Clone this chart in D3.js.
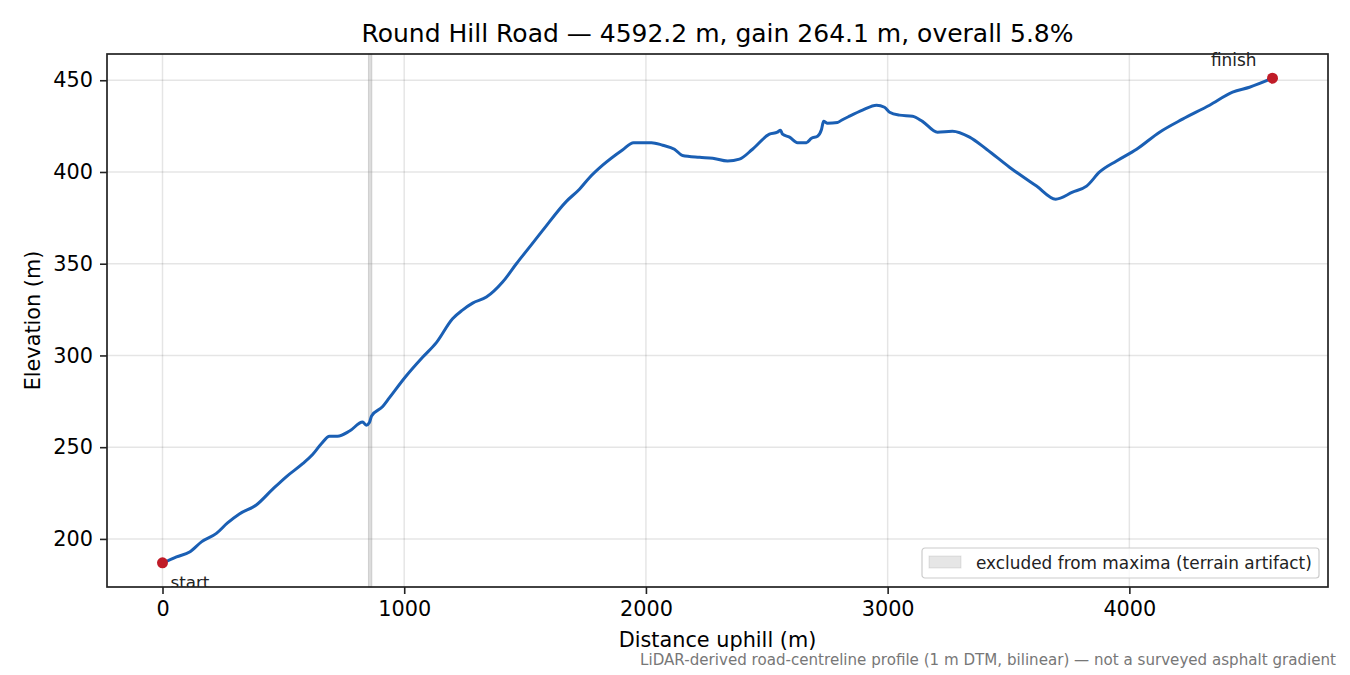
<!doctype html>
<html lang="en">
<head>
    <meta charset="UTF-8">
    <title>Round Hill Road profile</title>
    <style>
        html, body { margin: 0; padding: 0; background: #fff; }
        svg { display: block; font-family: "DejaVu Sans", sans-serif; }
    </style>
</head>
<body>
<svg id="chart" width="1350" height="675"></svg>

<script src="https://cdn.jsdelivr.net/npm/d3@7"></script>
<script>
  // profile
  const distance = [0, 21, 58, 112, 161, 223, 269, 318, 388, 455, 513, 580, 621, 658, 691, 724, 774, 828, 843, 856, 865,
    910, 939, 1008, 1076, 1133, 1200, 1241, 1283, 1340, 1407, 1464, 1506, 1572, 1671, 1725, 1767, 1821, 1903, 1949,
    2023, 2069, 2118, 2151, 2222, 2276, 2338, 2387, 2441, 2511, 2544, 2557, 2565, 2594, 2627, 2664, 2685, 2710, 2726,
    2735, 2751, 2793, 2809, 2842, 2896, 2954, 2987, 3008, 3049, 3103, 3144, 3206, 3268, 3339, 3409, 3504, 3616, 3695,
    3765, 3823, 3877, 3947, 4030, 4125, 4220, 4332, 4427, 4497, 4592.2]
  const elevation = [187.0, 188, 190.2, 192.9, 198.4, 203, 208.7, 213.6, 218.5, 227, 234, 241, 246, 252, 256, 256, 258.8, 263.7, 262, 263.5, 267,
    272, 277, 288.8, 299, 307, 320, 324.7, 328.5, 331.8, 340, 350, 357, 368, 384, 390.6, 397, 403.7, 412, 416,
    416, 414.6, 412.4, 409, 408, 407.5, 406, 407, 412.4, 420.6, 421.7, 422.8, 420.6, 419, 416, 416, 418.4, 419.5, 423,
    427.6, 426.6, 427, 428.2, 430.4, 433.7, 436.4, 435.3, 432.6, 431, 430.4, 427.6, 421.7, 422.2, 419, 412.4, 402.6, 392.3, 385.2,
    389, 392.3, 400, 406, 412.4, 421.7, 428.8, 436.4, 443.5, 446.2, 451.1]

  const excluded = [852, 866]
  const xTicks = [0, 1000, 2000, 3000, 4000]
  const yTicks = [200, 250, 300, 350, 400, 450]

  const title = 'Round Hill Road \u2014 4592.2 m, gain 264.1 m, overall 5.8%'
  const footnote = 'LiDAR-derived road-centreline profile (1 m DTM, bilinear) \u2014 not a surveyed asphalt gradient'

  const data = distance.map((d, i) => [d, elevation[i]])

  const plotL = 107, plotR = 1328, plotT = 54, plotB = 587

  // matplotlib style 5% margins
  const xMin = d3.min(distance), xMax = d3.max(distance)
  const yMin = d3.min(elevation), yMax = d3.max(elevation)
  const xPad = (xMax - xMin) * 0.05, yPad = (yMax - yMin) * 0.05

  const xScale = d3.scaleLinear().domain([xMin - xPad, xMax + xPad]).range([plotL, plotR])
  const yScale = d3.scaleLinear().domain([yMin - yPad, yMax + yPad]).range([plotB, plotT])

  const svg = d3.select('#chart')

  svg.append('defs').append('clipPath').attr('id', 'plot-clip')
    .append('rect')
    .attr('x', plotL).attr('y', plotT)
    .attr('width', plotR - plotL).attr('height', plotB - plotT)

  // grid
  const grid = svg.append('g')
  grid.selectAll('.gx').data(xTicks).join('line')
    .attr('x1', d => xScale(d)).attr('x2', d => xScale(d))
    .attr('y1', plotT).attr('y2', plotB)
    .attr('stroke', '#000').attr('stroke-opacity', 0.1).attr('stroke-width', 1.5)
  grid.selectAll('.gy').data(yTicks).join('line')
    .attr('y1', d => yScale(d)).attr('y2', d => yScale(d))
    .attr('x1', plotL).attr('x2', plotR)
    .attr('stroke', '#000').attr('stroke-opacity', 0.1).attr('stroke-width', 1.5)

  // excluded span
  svg.append('rect')
    .attr('x', xScale(excluded[0]))
    .attr('width', xScale(excluded[1]) - xScale(excluded[0]))
    .attr('y', plotT).attr('height', plotB - plotT)
    .attr('fill', '#808080').attr('fill-opacity', 0.28)
    .attr('stroke', '#808080').attr('stroke-opacity', 0.28).attr('stroke-width', 1)

  const line = d3.line()
    .curve(d3.curveMonotoneX)
    .x(d => xScale(d[0]))
    .y(d => yScale(d[1]))

  svg.append('path')
    .attr('d', line(data))
    .attr('fill', 'none')
    .attr('stroke', '#1a5fb4')
    .attr('stroke-width', 3)
    .attr('stroke-linejoin', 'round')
    .attr('stroke-linecap', 'round')
    .attr('clip-path', 'url(#plot-clip)')

  // start / finish markers
  const ends = [data[0], data[data.length - 1]]
  svg.selectAll('.end').data(ends).join('circle')
    .attr('cx', d => xScale(d[0])).attr('cy', d => yScale(d[1]))
    .attr('r', 5.5).attr('fill', '#c01c28')

  svg.append('text')
    .attr('x', xScale(ends[0][0]) + 8).attr('y', yScale(ends[0][1]) + 25)
    .attr('font-size', 16.7).attr('fill', '#222')
    .attr('clip-path', 'url(#plot-clip)')
    .text('start')
  svg.append('text')
    .attr('x', xScale(ends[1][0]) - 16).attr('y', yScale(ends[1][1]) - 12)
    .attr('text-anchor', 'end')
    .attr('font-size', 16.9).attr('fill', '#222')
    .text('finish')

  // axes
  const xAxis = svg.append('g')
    .attr('transform', `translate(0,${plotB})`)
    .call(d3.axisBottom(xScale).tickValues(xTicks).tickFormat(d3.format('d')).tickSize(7).tickPadding(7))
  const yAxis = svg.append('g')
    .attr('transform', `translate(${plotL},0)`)
    .call(d3.axisLeft(yScale).tickValues(yTicks).tickFormat(d3.format('d')).tickSize(7).tickPadding(7))

  ;[xAxis, yAxis].forEach(ax => {
    ax.select('.domain').remove()
    ax.selectAll('line').attr('stroke', '#222').attr('stroke-width', 1.6)
    ax.selectAll('text').attr('font-size', 20.8).attr('fill', '#000')
      .attr('font-family', '"DejaVu Sans", sans-serif')
  })

  // frame
  svg.append('rect')
    .attr('x', plotL).attr('y', plotT)
    .attr('width', plotR - plotL).attr('height', plotB - plotT)
    .attr('fill', 'none').attr('stroke', '#222').attr('stroke-width', 1.7)

  // labels
  svg.append('text')
    .attr('x', (plotL + plotR) / 2).attr('y', 42)
    .attr('text-anchor', 'middle').attr('font-size', 25)
    .text(title)
  svg.append('text')
    .attr('x', (plotL + plotR) / 2).attr('y', 647)
    .attr('text-anchor', 'middle').attr('font-size', 20.8)
    .text('Distance uphill (m)')
  svg.append('text')
    .attr('transform', `translate(40,${(plotT + plotB) / 2}) rotate(-90)`)
    .attr('text-anchor', 'middle').attr('font-size', 20.8)
    .text('Elevation (m)')
  svg.append('text')
    .attr('x', 1336).attr('y', 665)
    .attr('text-anchor', 'end').attr('font-size', 15.1).attr('fill', '#777')
    .text(footnote)

  // legend
  const lg = svg.append('g').attr('transform', 'translate(922,548)')
  lg.append('rect')
    .attr('width', 397).attr('height', 30).attr('rx', 3)
    .attr('fill', '#fff').attr('fill-opacity', 0.8)
    .attr('stroke', '#ccc').attr('stroke-width', 1.2)
  lg.append('rect')
    .attr('x', 7).attr('y', 8).attr('width', 32).attr('height', 12)
    .attr('fill', '#808080').attr('fill-opacity', 0.2)
    .attr('stroke', '#808080').attr('stroke-opacity', 0.2)
  lg.append('text')
    .attr('x', 54).attr('y', 20.5)
    .attr('font-size', 16.9).attr('fill', '#222')
    .text('excluded from maxima (terrain artifact)')
</script>
</body>
</html>
